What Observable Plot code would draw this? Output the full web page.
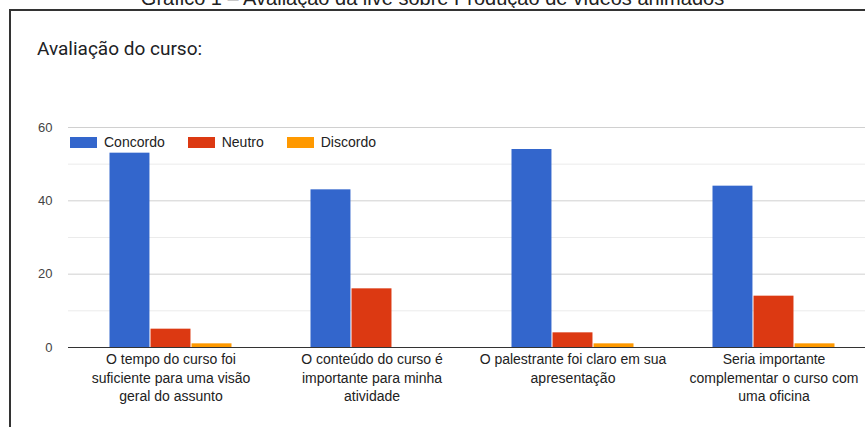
<!DOCTYPE html>
<html><head><meta charset="utf-8">
<script src="https://cdn.jsdelivr.net/npm/d3@7"></script>
<script src="https://cdn.jsdelivr.net/npm/@observablehq/plot@0.6"></script>
<style>
html,body{margin:0;padding:0;background:#fff;overflow:hidden;width:865px;height:427px;}
#wrap{position:relative;width:865px;height:427px;overflow:hidden;font-family:Arial,"Liberation Sans",sans-serif;background:#fff;}
#title{position:absolute;left:0;width:865px;top:-11.7px;text-align:center;font-size:20px;line-height:20px;color:#222;white-space:nowrap;overflow:hidden;}
#frame{position:absolute;left:9px;top:9px;width:856px;height:418px;border-top:2px solid #333;border-left:2px solid #333;box-sizing:border-box;}
#sub{position:absolute;left:37px;top:39px;font-family:Roboto,sans-serif;font-size:19px;line-height:19px;color:#202124;white-space:nowrap;}
#chart{position:absolute;left:0;top:0;width:865px;height:427px;overflow:hidden;}
#chart svg{max-width:none !important;}
#legend{position:absolute;left:70px;top:134px;font-size:14px;line-height:16px;color:#222;display:flex;gap:23px;}
#legend .it{display:flex;align-items:center;gap:7px;}
#legend .sw{width:27px;height:11px;display:inline-block;}
</style>
</head><body>
<div id="wrap">
  <div id="title"></div>
  <div id="frame"></div>
  <div id="sub"></div>
  <div id="chart"></div>
  <div id="legend"></div>
</div>
<script>
const titleText = "Gráfico 1 – Avaliação da live sobre Produção de vídeos animados";
const subtitleText = "Avaliação do curso:";
const categories = [
  "O tempo do curso foi\nsuficiente para uma visão\ngeral do assunto",
  "O conteúdo do curso é\nimportante para minha\natividade",
  "O palestrante foi claro em sua\napresentação",
  "Seria importante\ncomplementar o curso com\numa oficina"
];
const series = ["Concordo", "Neutro", "Discordo"];
const concordo = [53, 43, 54, 44];
const neutro = [5, 16, 4, 14];
const discordo = [1, 0, 1, 1];
const colors = ["#3366cc", "#dc3912", "#ff9900"];
const yTickLabels = [0, 20, 40, 60];
const gridMajor = [20, 40, 60];
const gridMinor = [10, 30, 50];

document.getElementById("title").textContent = titleText;
document.getElementById("sub").textContent = subtitleText;

const values = [concordo, neutro, discordo];
const data = categories.flatMap((c, i) => series.map((s, j) => ({cat: c, series: s, value: values[j][i]})));

const W = 880, H = 427, mL = 68, mR = 5, mT = 127, mB = 80;
const pad = 0.39;
const step = (W - mL - mR) / categories.length;
const bw = step * (1 - pad) / series.length;

const chart = Plot.plot({
  width: W, height: H,
  marginLeft: mL, marginRight: mR, marginTop: mT, marginBottom: mB,
  style: {fontFamily: "Arial, 'Liberation Sans', sans-serif", fontSize: "14px", color: "#222", background: "transparent", overflow: "visible", maxWidth: "none"},
  x: {domain: categories, paddingInner: pad, paddingOuter: pad / 2, label: null},
  y: {domain: [0, 60], label: null},
  color: {domain: series, range: colors},
  marks: [
    Plot.ruleY(gridMinor, {stroke: "#ebebeb", strokeWidth: 1}),
    Plot.ruleY(gridMajor, {stroke: "#d0d0d0", strokeWidth: 1}),
    ...series.map((s, j) => Plot.barY(data.filter(d => d.series === s), {
      x: "cat", y: "value", fill: "series",
      insetLeft: j * bw + 0.5, insetRight: (series.length - 1 - j) * bw + 0.5
    })),
    Plot.ruleY([0], {stroke: "#333", strokeWidth: 1}),
    Plot.axisY({ticks: yTickLabels, tickSize: 0, tickPadding: 16, fontSize: 13, color: "#444", label: null}),
    Plot.axisX({tickSize: 0, tickPadding: 4, lineHeight: 1.3, fontSize: 14, color: "#222", label: null})
  ]
});
chart.style.maxWidth = "none";
chart.style.width = W + "px";
chart.style.height = H + "px";
document.getElementById("chart").appendChild(chart);

const legend = document.getElementById("legend");
series.forEach((s, j) => {
  const it = document.createElement("div");
  it.className = "it";
  const sw = document.createElement("span");
  sw.className = "sw";
  sw.style.background = colors[j];
  const t = document.createElement("span");
  t.textContent = s;
  it.appendChild(sw); it.appendChild(t);
  legend.appendChild(it);
});
</script>
</body></html>
